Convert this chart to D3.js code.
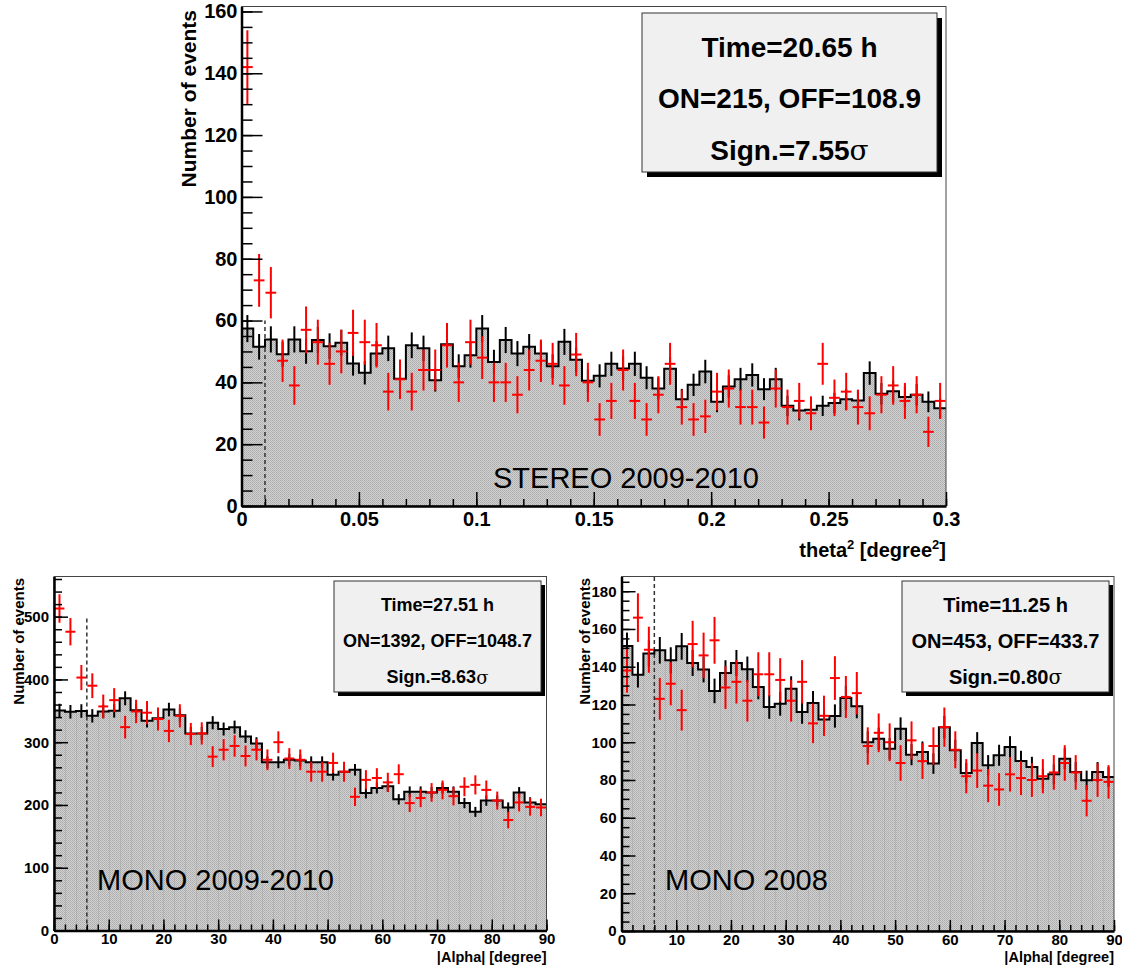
<!DOCTYPE html>
<html>
<head>
<meta charset="utf-8">
<script src="https://cdn.jsdelivr.net/npm/d3@7"></script>
<style>
  body { margin: 0; background: #fff; }
  text { font-family: "Liberation Sans", Arial, Helvetica, sans-serif; }
</style>
</head>
<body>
<div id="chart"></div>
<script>

// ---- data ----

// STEREO 2009-2010, theta^2 bins of 0.005
var stereoOn = [142, 73, 69, 47, 39, 57, 53, 46, 50, 56, 53, 52, 37, 41, 37, 44, 44, 52, 40, 53,
                48, 40, 40, 36, 44, 47, 46, 39, 49, 40, 28, 34, 44, 34, 28, 36, 46, 32, 28, 29,
                37, 38, 32, 32, 27, 38, 32, 34, 30, 46, 35, 37, 32, 30, 36, 39, 34, 36, 24, 34];
var stereoOff = [57.4, 51.5, 53.9, 49.1, 53.9, 50.1, 53.7, 51.7, 52.8, 46.1, 43.1, 49.3, 51.0, 41.2, 52.0,
                 51.0, 40.7, 52.3, 45.2, 48.8, 57.4, 46.6, 53.7, 49.3, 51.5, 49.3, 45.2, 53.1, 47.3, 40.5,
                 42.1, 46.0, 44.5, 46.0, 41.5, 38.0, 44.4, 34.5, 39.2, 43.5, 33.7, 38.7, 41.0, 42.4, 37.8,
                 41.0, 32.4, 30.9, 31.1, 32.4, 33.3, 34.5, 34.1, 43.0, 36.3, 37.1, 35.3, 36.0, 33.7, 31.6];

// MONO 2009-2010, |Alpha| bins of 2 degree
var mono0910On = [513, 476, 403, 390, 357, 367, 324, 349, 347, 337, 318, 342, 313, 314, 277,
                  288, 294, 278, 288, 272, 300, 274, 272, 253, 253, 267, 253, 213, 240, 243,
                  236, 249, 203, 211, 220, 224, 214, 229, 232, 224, 207, 176, 204, 197, 196];
var mono0910Off = [350.5, 348.5, 349.7, 342, 349, 350, 370, 351, 334, 338, 352, 343, 314, 314, 331,
                   321, 324, 309, 298, 268, 268, 272, 271, 268, 268, 248, 253, 256, 219, 227,
                   230, 209, 221, 221, 220, 227, 221, 203, 189, 207, 207, 196, 220, 204, 201];

// MONO 2008
var mono08On = [138, 166, 149, 123, 131, 117, 152, 146, 154, 129, 132, 122, 136, 136, 133,
                122, 132, 110, 114, 134, 124, 126, 98, 105, 100, 89, 101, 90, 98, 108,
                96, 82, 85, 77, 75, 83, 81, 80, 82, 84, 89, 84, 69, 80, 79];
var mono08Off = [151, 135.7, 147, 148.7, 143.4, 150.8, 142, 138.5, 127.2, 136.7, 142, 138.6, 129.3, 118.7, 120.4,
                 128.4, 116, 120.8, 112.1, 113.9, 123.5, 119, 100, 101.9, 96.6, 107.2, 93.4, 94.8, 88.7, 108,
                 95.7, 83.7, 99.6, 87.8, 93.1, 97.5, 90, 86.9, 80.7, 83, 91.3, 84.2, 79.8, 84.2, 81.6];

// box texts and labels
var stereoStats = ["Time=20.65 h", "ON=215, OFF=108.9", "Sign.=7.55"];
var mono0910Stats = ["Time=27.51 h", "ON=1392, OFF=1048.7", "Sign.=8.63"];
var mono08Stats = ["Time=11.25 h", "ON=453, OFF=433.7", "Sign.=0.80"];

// tick values
var stereoXTicks = [0, 0.05, 0.1, 0.15, 0.2, 0.25, 0.3];
var stereoYTicks = [0, 20, 40, 60, 80, 100, 120, 140, 160];
var alphaXTicks = [0, 10, 20, 30, 40, 50, 60, 70, 80, 90];
var mono0910YTicks = [0, 100, 200, 300, 400, 500];
var mono08YTicks = [0, 20, 40, 60, 80, 100, 120, 140, 160, 180];

var svg = d3.select("#chart").append("svg")
    .attr("width", 1122)
    .attr("height", 969);

// hatched grey fill like the ROOT fill style
var defs = svg.append("defs");
var pat = defs.append("pattern")
    .attr("id", "hatch")
    .attr("patternUnits", "userSpaceOnUse")
    .attr("width", 2).attr("height", 2);
pat.append("rect").attr("width", 2).attr("height", 2).attr("fill", "#d2d2d2");
pat.append("rect").attr("width", 1).attr("height", 1).attr("fill", "#ababab");
pat.append("rect").attr("x", 1).attr("y", 1).attr("width", 1).attr("height", 1).attr("fill", "#b4b4b4");

function drawPanel(p) {
    var g = svg.append("g");
    var x = d3.scaleLinear().domain([0, p.xMax]).range([p.left, p.right]);
    var y = d3.scaleLinear().domain([0, p.yMax]).range([p.bottom, p.top]);
    var n = p.off.length;

    // step points for the OFF histogram
    var pts = p.off.map(function (v, i) { return [i * p.bw, v]; });
    pts.push([n * p.bw, p.off[n - 1]]);

    var area = d3.area()
        .curve(d3.curveStepAfter)
        .x(d => x(d[0]))
        .y0(y(0))
        .y1(d => y(d[1]));

    g.append("path")
        .attr("d", area(pts))
        .attr("fill", "url(#hatch)");

    // faint bin edges inside the fill
    if (p.binLines) {
        g.selectAll(".binline").data(p.off).enter()
            .append("line")
            .attr("x1", (d, i) => Math.round(x(i * p.bw)) + 0.5)
            .attr("x2", (d, i) => Math.round(x(i * p.bw)) + 0.5)
            .attr("y1", y(0))
            .attr("y2", d => y(d))
            .attr("stroke", "#a8a8a8")
            .attr("stroke-opacity", 0.55)
            .attr("stroke-width", 1);
    }

    // cut line
    g.append("line")
        .attr("x1", x(p.cut)).attr("x2", x(p.cut))
        .attr("y1", y(0)).attr("y2", y(p.cutTop))
        .attr("stroke", "#333")
        .attr("stroke-width", 1.5)
        .attr("stroke-dasharray", "4,3");

    var line = d3.line()
        .curve(d3.curveStepAfter)
        .x(d => x(d[0]))
        .y(d => y(d[1]));

    g.append("path")
        .attr("d", line(pts))
        .attr("fill", "none")
        .attr("stroke", "#000")
        .attr("stroke-width", 2);

    // OFF error bars
    g.selectAll(".offerr").data(p.off).enter()
        .append("line")
        .attr("x1", (d, i) => x((i + 0.5) * p.bw))
        .attr("x2", (d, i) => x((i + 0.5) * p.bw))
        .attr("y1", d => y(d - Math.sqrt(d / 3)))
        .attr("y2", d => y(d + Math.sqrt(d / 3)))
        .attr("stroke", "#000")
        .attr("stroke-width", 2);

    // ON points with errors
    var on = g.selectAll(".on").data(p.on).enter().append("g");
    on.append("line")
        .attr("x1", (d, i) => x(i * p.bw) + 0.5)
        .attr("x2", (d, i) => x((i + 1) * p.bw) - 0.5)
        .attr("y1", d => y(d))
        .attr("y2", d => y(d))
        .attr("stroke", "#ff0000")
        .attr("stroke-width", 2);
    on.append("line")
        .attr("x1", (d, i) => x((i + 0.5) * p.bw))
        .attr("x2", (d, i) => x((i + 0.5) * p.bw))
        .attr("y1", d => y(d - Math.sqrt(d)))
        .attr("y2", d => y(d + Math.sqrt(d)))
        .attr("stroke", "#ff0000")
        .attr("stroke-width", 2);

    // frame
    g.append("rect")
        .attr("x", p.left).attr("y", p.top)
        .attr("width", p.right - p.left)
        .attr("height", p.bottom - p.top)
        .attr("fill", "none")
        .attr("stroke", "#444")
        .attr("stroke-width", 1);

    // axes, ticks pointing inwards
    var yMinor = d3.range(0, p.yMax, p.yMinorStep);
    g.append("g")
        .attr("transform", `translate(${p.left},0)`)
        .call(d3.axisLeft(y).tickValues(yMinor).tickSize(-p.yMinorLen).tickFormat(""))
        .call(a => a.select(".domain").remove())
        .selectAll("line").attr("stroke-width", 1.5);

    var yAx = g.append("g")
        .attr("transform", `translate(${p.left},0)`)
        .call(d3.axisLeft(y).tickValues(p.yTicks).tickSize(-p.yMajorLen).tickSizeOuter(0)
            .tickPadding(p.yPad).tickFormat(d3.format("d")));
    yAx.selectAll("line").attr("stroke-width", 1.5);
    yAx.select(".domain").attr("stroke-width", 2.5);
    yAx.selectAll("text")
        .attr("font-size", p.tickFont + "px")
        .attr("font-weight", "bold")
        .attr("fill", "#000");

    var xMinor = d3.range(0, p.xMax + 1e-9, p.xMinorStep);
    g.append("g")
        .attr("transform", `translate(0,${p.bottom})`)
        .call(d3.axisBottom(x).tickValues(xMinor).tickSize(-p.xMinorLen).tickFormat(""))
        .call(a => a.select(".domain").remove())
        .selectAll("line").attr("stroke-width", 1.5);

    var xAx = g.append("g")
        .attr("transform", `translate(0,${p.bottom})`)
        .call(d3.axisBottom(x).tickValues(p.xTicks).tickSize(-p.xMajorLen).tickSizeOuter(0)
            .tickPadding(p.xPad).tickFormat(d => d3.format("~g")(d)));
    xAx.selectAll("line").attr("stroke-width", 1.5);
    xAx.select(".domain").attr("stroke-width", 2.5);
    xAx.selectAll("text")
        .attr("font-size", p.tickFont + "px")
        .attr("font-weight", "bold")
        .attr("fill", "#000");

    // axis titles
    g.append("text")
        .attr("transform", `translate(${p.yTitleX},${p.yTitleTop}) rotate(-90)`)
        .attr("text-anchor", "end")
        .attr("dominant-baseline", "central")
        .attr("font-size", p.yTitleFont + "px")
        .attr("font-weight", "bold")
        .text("Number of events");

    var xt = g.append("text")
        .attr("x", p.right)
        .attr("y", p.xTitleY)
        .attr("text-anchor", "end")
        .attr("font-size", p.xTitleFont + "px")
        .attr("font-weight", "bold");
    p.xTitle(xt);

    // stats box
    var b = p.box;
    g.append("rect")
        .attr("x", b.x + b.sh).attr("y", b.y + b.sh)
        .attr("width", b.w).attr("height", b.h)
        .attr("fill", "#000");
    g.append("rect")
        .attr("x", b.x).attr("y", b.y)
        .attr("width", b.w).attr("height", b.h)
        .attr("fill", "#f0f0f0")
        .attr("stroke", "#333")
        .attr("stroke-width", 1);
    p.stats.forEach(function (s, i) {
        var t = g.append("text")
            .attr("x", b.x + b.w / 2)
            .attr("y", b.lines[i])
            .attr("text-anchor", "middle")
            .attr("dominant-baseline", "central")
            .attr("font-size", b.font + "px")
            .attr("font-weight", "bold")
            .text(s);
        if (i === 2) {
            t.append("tspan")
                .attr("font-family", "DejaVu Serif, serif")
                .attr("font-weight", "normal")
                .attr("font-style", "normal")
                .text("\u03c3");
        }
    });

    // sample label
    g.append("text")
        .attr("x", p.label.x)
        .attr("y", p.label.y)
        .attr("dominant-baseline", "central")
        .attr("font-size", p.label.font + "px")
        .text(p.label.text);
}

function thetaTitle(t) {
    t.append("tspan").text("theta");
    t.append("tspan").attr("font-size", "13px").attr("dy", -8).text("2");
    t.append("tspan").attr("dy", 8).text(" [degree");
    t.append("tspan").attr("font-size", "13px").attr("dy", -8).text("2");
    t.append("tspan").attr("dy", 8).text("]");
}

function alphaTitle(t) {
    t.text("|Alpha| [degree]");
}

drawPanel({
    on: stereoOn, off: stereoOff, bw: 0.005,
    left: 241.5, right: 946, top: 6.5, bottom: 506,
    xMax: 0.3, yMax: 161.6,
    xTicks: stereoXTicks, yTicks: stereoYTicks,
    xMinorStep: 0.01, yMinorStep: 5,
    xMajorLen: 14, xMinorLen: 7, yMajorLen: 21, yMinorLen: 11,
    tickFont: 20, xPad: 6, yPad: 4,
    cut: 0.01, cutTop: 60, binLines: false,
    yTitleX: 188, yTitleTop: 10, yTitleFont: 21,
    xTitleY: 557, xTitleFont: 20, xTitle: thetaTitle,
    box: { x: 642, y: 13, w: 295, h: 159, sh: 5, font: 28, lines: [47, 98, 150] },
    stats: stereoStats,
    label: { x: 493, y: 478, font: 29, text: "STEREO 2009-2010" }
});

drawPanel({
    on: mono0910On, off: mono0910Off, bw: 2,
    left: 54, right: 546.5, top: 576.5, bottom: 930.5,
    xMax: 90, yMax: 564,
    xTicks: alphaXTicks, yTicks: mono0910YTicks,
    xMinorStep: 2, yMinorStep: 20,
    xMajorLen: 11, xMinorLen: 6, yMajorLen: 14, yMinorLen: 8,
    tickFont: 15, xPad: 3, yPad: 5,
    cut: 6, cutTop: 500, binLines: true,
    yTitleX: 18, yTitleTop: 578, yTitleFont: 15,
    xTitleY: 962, xTitleFont: 14.5, xTitle: alphaTitle,
    box: { x: 334, y: 581, w: 207, h: 111, sh: 4, font: 18, lines: [605, 641, 677] },
    stats: mono0910Stats,
    label: { x: 97, y: 880, font: 29, text: "MONO 2009-2010" }
});

drawPanel({
    on: mono08On, off: mono08Off, bw: 2,
    left: 621.5, right: 1114, top: 576.5, bottom: 931,
    xMax: 90, yMax: 187.8,
    xTicks: alphaXTicks, yTicks: mono08YTicks,
    xMinorStep: 2, yMinorStep: 5,
    xMajorLen: 11, xMinorLen: 6, yMajorLen: 14, yMinorLen: 8,
    tickFont: 15, xPad: 3, yPad: 5,
    cut: 6, cutTop: 187.8, binLines: true,
    yTitleX: 584, yTitleTop: 578, yTitleFont: 15,
    xTitleY: 962, xTitleFont: 14.5, xTitle: alphaTitle,
    box: { x: 902, y: 581, w: 207, h: 111, sh: 4, font: 20, lines: [605, 641, 677] },
    stats: mono08Stats,
    label: { x: 665, y: 880, font: 29, text: "MONO 2008" }
});

</script>
</body>
</html>
